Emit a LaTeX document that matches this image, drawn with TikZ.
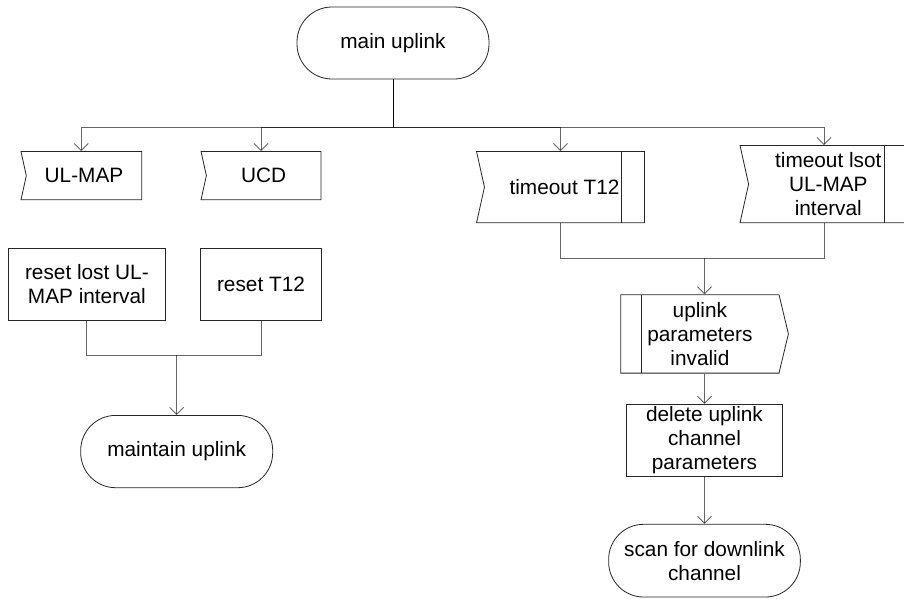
\documentclass[tikz,border=0pt]{standalone}
\usepackage{fontspec}
\setmainfont{Liberation Sans}
\usetikzlibrary{positioning, shapes.symbols, arrows.meta}

\begin{document}
\begin{tikzpicture}[
    x=1pt, y=1pt,
    every node/.style={draw=black!85, line width=0.8pt, align=center, inner sep=0pt, font=\fontsize{20.8}{24}\selectfont},
    terminal/.style={rectangle, rounded corners=35pt, minimum width=192pt, minimum height=72pt},
    task/.style={rectangle, minimum height=72.3pt},
    input/.style={signal, signal from=west, signal to=nowhere, signal pointer angle=155},
    output/.style={signal, signal from=nowhere, signal to=east, signal pointer angle=153},
    barright/.style={path picture={\draw[black!85, line width=0.8pt] ([xshift=-23.3pt]path picture bounding box.north east) -- ([xshift=-23.3pt]path picture bounding box.south east);}},
    barleft/.style={path picture={\draw[black!85, line width=0.8pt] ([xshift=21pt]path picture bounding box.north west) -- ([xshift=21pt]path picture bounding box.south west);}},
    link/.style={line width=0.9pt, draw=black, draw opacity=0.6},
    arrow/.style={link, -{Straight Barb[length=7pt, width=14pt]}}
]
\useasboundingbox (0,0) rectangle (904,-598);

\node[terminal] (main) at (393,-43) {main uplink};
\coordinate[below=47.7pt of main] (fork);

% incoming signals (centre sits half a notch right of the box middle)
\node[input, minimum width=120.7pt, minimum height=48.3pt, below=24pt of fork, xshift=-309pt] (ulmap) {UL-MAP};
\node[input, minimum width=120pt, minimum height=48.3pt, below=24pt of fork, xshift=-129.3pt] (ucd) {UCD};
\node[input, barright, minimum width=168pt, minimum height=71.3pt, below=24pt of fork, xshift=171.5pt] (t12) {timeout T12};
\node[input, barright, minimum width=168pt, minimum height=77.3pt, below=18pt of fork, xshift=435.3pt] (lsot) {timeout lsot\\UL-MAP\\interval};

% left branch
\node[task, minimum width=156.3pt, below=47.7pt of ulmap, xshift=2.9pt] (resetlost) {reset lost UL-\\MAP interval};
\node[task, minimum width=121pt, below=47.7pt of ucd, xshift=-2.7pt] (resett12) {reset T12};
\coordinate (merge1) at (176.7,-355);
\node[terminal, minimum height=72.3pt, below=60pt of merge1] (maintain) {maintain uplink};

% right branch
\coordinate (merge2) at (704.5,-258.3);
\node[output, barleft, minimum width=167.6pt, minimum height=78.4pt, below=36pt of merge2, xshift=-4.6pt] (params) {uplink\\parameters\\invalid};
\node[task, minimum width=156pt, minimum height=72pt, below=30.3pt of params, xshift=4.6pt] (delete) {delete uplink\\channel\\parameters};
\node[terminal, minimum width=191.7pt, minimum height=72.7pt, below=47.3pt of delete] (scan) {scan for downlink\\channel};

\draw[arrow] (main) -- (fork) -| ([xshift=-2.7pt]ulmap.north);
\draw[arrow] (main) -- (fork) -| ([xshift=-2.7pt]ucd.north);
\draw[arrow] (main) -- (fork) -| ([xshift=-4pt]t12.north);
\draw[arrow] (main) -- (fork) -| ([xshift=-4.3pt]lsot.north);

\draw[link] (resetlost) |- (merge1);
\draw[link] (resett12) |- (merge1);
\draw[arrow] (merge1) -- (maintain);

\draw[link] ([xshift=-4pt]t12.south) |- (merge2);
\draw[link] ([xshift=-4.3pt]lsot.south) |- (merge2);
\draw[arrow] (merge2) -- ([xshift=4.6pt]params.north);
\draw[arrow] ([xshift=4.6pt]params.south) -- (delete);
\draw[arrow] (delete) -- (scan);

\end{tikzpicture}
\end{document}
